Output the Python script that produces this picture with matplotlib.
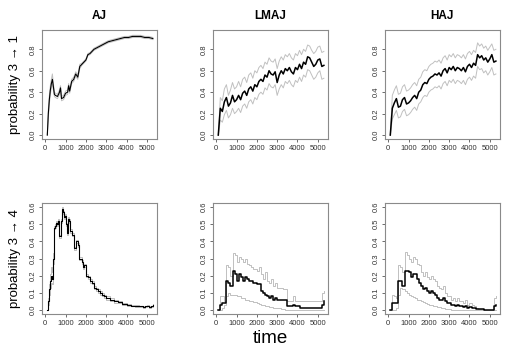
import matplotlib
matplotlib.use("Agg")
from matplotlib import pyplot as plt

plt.rcParams['font.family'] = ['Liberation Sans', 'DejaVu Sans']

# shared time grid for LMAJ / HAJ panels
T = list(range(100, 5400, 100))

# ---- AJ, 3 -> 1
aj1_t = [100, 150, 200, 250, 300, 350, 400, 450, 500, 600, 700, 750, 800, 900, 1000,
         1100, 1150, 1200, 1300, 1400, 1500, 1600, 1700, 1800, 1900, 2000, 2100, 2200,
         2300, 2400, 2500, 2700, 2900, 3100, 3300, 3500, 3700, 3900, 4100, 4300, 4500,
         4700, 4900, 5100, 5300]
aj1 = [0.0, 0.2, 0.33, 0.42, 0.48, 0.52, 0.45, 0.38, 0.37, 0.36, 0.40, 0.44, 0.34, 0.35, 0.39,
       0.40, 0.46, 0.41, 0.50, 0.52, 0.57, 0.54, 0.64, 0.66, 0.68, 0.70, 0.75, 0.76,
       0.78, 0.80, 0.81, 0.83, 0.85, 0.87, 0.88, 0.89, 0.90, 0.91, 0.91, 0.92, 0.92,
       0.92, 0.91, 0.91, 0.90]
aj1_up = [0.0, 0.24, 0.37, 0.46, 0.52, 0.57, 0.48, 0.40, 0.39, 0.38, 0.42, 0.46, 0.36, 0.37, 0.41,
          0.42, 0.48, 0.43, 0.52, 0.54, 0.59, 0.56, 0.66, 0.67, 0.69, 0.71, 0.76, 0.77,
          0.79, 0.81, 0.82, 0.84, 0.86, 0.88, 0.89, 0.90, 0.91, 0.92, 0.92, 0.93, 0.93,
          0.93, 0.92, 0.92, 0.91]
aj1_lo = [0.0, 0.16, 0.29, 0.38, 0.44, 0.48, 0.42, 0.36, 0.35, 0.34, 0.38, 0.42, 0.32, 0.33, 0.37,
          0.38, 0.44, 0.39, 0.48, 0.50, 0.55, 0.52, 0.62, 0.65, 0.67, 0.69, 0.74, 0.75,
          0.77, 0.79, 0.80, 0.82, 0.84, 0.86, 0.87, 0.88, 0.89, 0.90, 0.90, 0.91, 0.91,
          0.91, 0.90, 0.90, 0.89]

# ---- LMAJ, 3 -> 1
lm1 = [0.00, 0.25, 0.22, 0.31, 0.35, 0.27, 0.30, 0.37, 0.31, 0.33, 0.37, 0.33, 0.39, 0.41,
       0.37, 0.43, 0.45, 0.41, 0.47, 0.45, 0.50, 0.52, 0.50, 0.56, 0.54, 0.60, 0.57, 0.56,
       0.59, 0.49, 0.56, 0.60, 0.57, 0.62, 0.60, 0.63, 0.59, 0.57, 0.63, 0.61, 0.66, 0.62,
       0.68, 0.66, 0.73, 0.72, 0.68, 0.64, 0.66, 0.70, 0.71, 0.64, 0.65]
lm1_up = [0.00, 0.35, 0.32, 0.43, 0.47, 0.37, 0.42, 0.49, 0.43, 0.45, 0.50, 0.45, 0.52, 0.54,
          0.49, 0.56, 0.58, 0.53, 0.60, 0.58, 0.63, 0.65, 0.62, 0.68, 0.66, 0.72, 0.69, 0.68,
          0.71, 0.62, 0.69, 0.73, 0.70, 0.75, 0.73, 0.76, 0.72, 0.70, 0.76, 0.74, 0.79, 0.75,
          0.80, 0.78, 0.84, 0.83, 0.79, 0.76, 0.78, 0.82, 0.83, 0.77, 0.78]
lm1_lo = [0.00, 0.14, 0.12, 0.19, 0.23, 0.16, 0.19, 0.25, 0.20, 0.22, 0.25, 0.21, 0.27, 0.29,
          0.25, 0.31, 0.33, 0.29, 0.35, 0.33, 0.38, 0.40, 0.38, 0.44, 0.42, 0.48, 0.45, 0.44,
          0.47, 0.37, 0.43, 0.47, 0.44, 0.50, 0.48, 0.51, 0.47, 0.45, 0.51, 0.49, 0.54, 0.50,
          0.56, 0.54, 0.61, 0.60, 0.56, 0.52, 0.54, 0.58, 0.60, 0.52, 0.53]

# ---- HAJ, 3 -> 1
ha1 = [0.00, 0.25, 0.30, 0.34, 0.26, 0.27, 0.33, 0.35, 0.29, 0.30, 0.32, 0.35, 0.37, 0.34,
       0.40, 0.42, 0.47, 0.49, 0.48, 0.52, 0.54, 0.55, 0.57, 0.56, 0.58, 0.55, 0.60, 0.62,
       0.58, 0.63, 0.61, 0.64, 0.60, 0.63, 0.62, 0.60, 0.63, 0.59, 0.64, 0.66, 0.63, 0.67,
       0.65, 0.75, 0.72, 0.74, 0.70, 0.72, 0.68, 0.71, 0.75, 0.68, 0.69]
ha1_up = [0.00, 0.37, 0.42, 0.46, 0.38, 0.39, 0.45, 0.47, 0.41, 0.42, 0.44, 0.47, 0.49, 0.46,
          0.52, 0.54, 0.59, 0.61, 0.60, 0.64, 0.66, 0.67, 0.69, 0.68, 0.70, 0.67, 0.72, 0.74,
          0.70, 0.75, 0.73, 0.76, 0.72, 0.75, 0.74, 0.72, 0.75, 0.71, 0.76, 0.78, 0.75, 0.79,
          0.77, 0.86, 0.83, 0.85, 0.81, 0.83, 0.79, 0.82, 0.85, 0.79, 0.80]
ha1_lo = [0.00, 0.15, 0.19, 0.23, 0.16, 0.17, 0.22, 0.24, 0.18, 0.19, 0.21, 0.24, 0.26, 0.23,
          0.29, 0.31, 0.35, 0.37, 0.36, 0.40, 0.42, 0.43, 0.45, 0.44, 0.46, 0.43, 0.48, 0.50,
          0.46, 0.51, 0.49, 0.52, 0.48, 0.51, 0.50, 0.48, 0.51, 0.47, 0.52, 0.54, 0.51, 0.55,
          0.53, 0.64, 0.61, 0.62, 0.58, 0.60, 0.56, 0.59, 0.63, 0.56, 0.57]

# ---- AJ, 3 -> 4
aj4_t = [100, 150, 200, 250, 300, 350, 400, 450, 500, 550, 600, 650, 700, 750, 800, 850, 900,
         950, 1000, 1050, 1100, 1150, 1200, 1300, 1400, 1500, 1600, 1650, 1800, 1850, 1900,
         2000, 2100, 2200, 2300, 2400, 2500, 2600, 2700, 2800, 2900, 3000, 3200, 3400, 3600,
         3800, 4000, 4200, 4400, 4600, 4800, 4900, 5000, 5100, 5200, 5300]
aj4 = [0.0, 0.05, 0.12, 0.17, 0.20, 0.18, 0.30, 0.48, 0.49, 0.51, 0.50, 0.52, 0.43, 0.52, 0.59,
       0.57, 0.54, 0.55, 0.50, 0.45, 0.53, 0.52, 0.46, 0.44, 0.36, 0.40, 0.38, 0.30, 0.28,
       0.25, 0.26, 0.20, 0.19, 0.17, 0.16, 0.13, 0.12, 0.11, 0.10, 0.09, 0.08, 0.07, 0.06,
       0.05, 0.045, 0.035, 0.03, 0.025, 0.022, 0.02, 0.015, 0.02, 0.025, 0.015, 0.02, 0.028]
aj4_up = [0.0, 0.07, 0.15, 0.21, 0.25, 0.22, 0.33, 0.49, 0.50, 0.52, 0.51, 0.53, 0.44, 0.53, 0.60,
          0.58, 0.55, 0.56, 0.51, 0.46, 0.54, 0.53, 0.47, 0.45, 0.37, 0.41, 0.39, 0.31, 0.29,
          0.26, 0.27, 0.21, 0.20, 0.18, 0.17, 0.14, 0.13, 0.12, 0.11, 0.10, 0.09, 0.08, 0.07,
          0.06, 0.05, 0.04, 0.035, 0.03, 0.027, 0.025, 0.02, 0.025, 0.03, 0.02, 0.025, 0.033]
aj4_lo = [0.0, 0.03, 0.09, 0.13, 0.16, 0.15, 0.27, 0.47, 0.48, 0.50, 0.49, 0.51, 0.42, 0.51, 0.58,
          0.56, 0.53, 0.54, 0.49, 0.44, 0.52, 0.51, 0.45, 0.43, 0.35, 0.39, 0.37, 0.29, 0.27,
          0.24, 0.25, 0.19, 0.18, 0.16, 0.15, 0.12, 0.11, 0.10, 0.09, 0.08, 0.07, 0.06, 0.05,
          0.04, 0.04, 0.03, 0.025, 0.02, 0.017, 0.015, 0.01, 0.015, 0.02, 0.01, 0.015, 0.023]

# ---- LMAJ, 3 -> 4
lm4 = [0.00, 0.03, 0.04, 0.04, 0.17, 0.16, 0.14, 0.23, 0.21, 0.17, 0.21, 0.19, 0.17, 0.19,
       0.18, 0.17, 0.17, 0.16, 0.16, 0.15, 0.15, 0.11, 0.10, 0.09, 0.08, 0.07, 0.08, 0.06,
       0.07, 0.06, 0.06, 0.06, 0.06, 0.06, 0.02, 0.02, 0.02, 0.03, 0.02, 0.02, 0.01,
       0.01, 0.01, 0.01, 0.01, 0.01, 0.01, 0.01, 0.01, 0.01, 0.01, 0.03, 0.05]
lm4_up = [0.00, 0.08, 0.08, 0.05, 0.26, 0.25, 0.20, 0.33, 0.32, 0.28, 0.31, 0.30, 0.28, 0.30,
          0.27, 0.26, 0.25, 0.24, 0.24, 0.23, 0.25, 0.21, 0.18, 0.22, 0.17, 0.16, 0.18, 0.14,
          0.16, 0.13, 0.13, 0.13, 0.12, 0.12, 0.05, 0.05, 0.05, 0.08, 0.05, 0.05, 0.05,
          0.05, 0.05, 0.05, 0.05, 0.05, 0.05, 0.05, 0.05, 0.05, 0.05, 0.10, 0.11]
lm4_lo = [0.00, 0.00, 0.01, 0.03, 0.08, 0.10, 0.09, 0.09, 0.09, 0.08, 0.08, 0.07, 0.07, 0.06,
          0.06, 0.05, 0.05, 0.045, 0.045, 0.04, 0.035, 0.03, 0.03, 0.02, 0.02, 0.015, 0.015,
          0.01, 0.01, 0.01, 0.01, 0.005, 0.005, 0.0, 0.0, 0.0, 0.0, 0.0, 0.0, 0.0, 0.0, 0.0,
          0.0, 0.0, 0.0, 0.0, 0.0, 0.0, 0.0, 0.0, 0.0, 0.0, 0.0]

# ---- HAJ, 3 -> 4
ha4 = [0.00, 0.04, 0.04, 0.04, 0.17, 0.17, 0.14, 0.23, 0.23, 0.22, 0.19, 0.21, 0.21, 0.18,
       0.16, 0.14, 0.12, 0.13, 0.11, 0.10, 0.11, 0.10, 0.09, 0.07, 0.06, 0.06, 0.07, 0.05,
       0.04, 0.04, 0.03, 0.03, 0.02, 0.03, 0.02, 0.02, 0.015, 0.02, 0.01, 0.015, 0.01, 0.01,
       0.008, 0.005, 0.004, 0.003, 0.002, 0.001, 0.0, 0.0, 0.0, 0.02, 0.03]
ha4_up = [0.00, 0.09, 0.08, 0.07, 0.26, 0.25, 0.22, 0.34, 0.32, 0.30, 0.28, 0.31, 0.30, 0.27,
          0.26, 0.22, 0.20, 0.22, 0.19, 0.18, 0.20, 0.18, 0.17, 0.14, 0.13, 0.12, 0.14, 0.10,
          0.08, 0.08, 0.06, 0.07, 0.05, 0.07, 0.05, 0.05, 0.04, 0.06, 0.03, 0.04, 0.03, 0.02,
          0.01, 0.005, 0.004, 0.003, 0.002, 0.001, 0.0, 0.0, 0.0, 0.07, 0.08]
ha4_lo = [0.00, 0.00, 0.00, 0.01, 0.09, 0.13, 0.12, 0.11, 0.10, 0.09, 0.08, 0.075, 0.07, 0.06,
          0.055, 0.05, 0.045, 0.04, 0.035, 0.03, 0.03, 0.025, 0.02, 0.015, 0.015, 0.01, 0.01,
          0.005, 0.005, 0.003, 0.0, 0.0, 0.0, 0.0, 0.0, 0.0, 0.0, 0.0, 0.0, 0.0, 0.0, 0.0,
          0.0, 0.0, 0.0, 0.0, 0.0, 0.0, 0.0, 0.0, 0.0, 0.0, 0.0]

titles = ['AJ', 'LMAJ', 'HAJ']
ylabels = ['probability 3 \u2192 1', 'probability 3 \u2192 4']
xticks = [0, 1000, 2000, 3000, 4000, 5000]
yticks_top = [0.0, 0.2, 0.4, 0.6, 0.8]
yticks_bot = [0.0, 0.1, 0.2, 0.3, 0.4, 0.5, 0.6]

panels = [
    [(aj1_t, aj1, aj1_up, aj1_lo, 'default'),
     (T, lm1, lm1_up, lm1_lo, 'default'),
     (T, ha1, ha1_up, ha1_lo, 'default')],
    [(aj4_t, aj4, aj4_up, aj4_lo, 'steps-post'),
     (T, lm4, lm4_up, lm4_lo, 'steps-post'),
     (T, ha4, ha4_up, ha4_lo, 'steps-post')],
]

fig = plt.figure(figsize=(5.15, 3.47), dpi=100)
lefts = [0.082, 0.414, 0.748]
rows = [(0.599, 0.314), (0.095, 0.32)]
frame = '#8a8a8a'

for r in range(2):
    for c in range(3):
        ax = fig.add_axes([lefts[c], rows[r][0], 0.222, rows[r][1]])
        t, mid, up, lo, ds = panels[r][c]
        ax.plot(t, up, color='#c0c0c0', lw=0.7, drawstyle=ds)
        ax.plot(t, lo, color='#c0c0c0', lw=0.7, drawstyle=ds)
        ax.plot(t, mid, color='black', lw=1.1 if c else 0.8, drawstyle=ds)
        ax.set_xlim(-150, 5480)
        if r == 0:
            ax.set_ylim(-0.038, 0.978)
            ax.set_yticks(yticks_top)
            ax.set_title(titles[c], fontsize=8.5, fontweight='bold', pad=8)
        else:
            ax.set_ylim(-0.024, 0.624)
            ax.set_yticks(yticks_bot)
        ax.set_yticklabels(['%.1f' % v for v in ax.get_yticks()], rotation=90, va='center')
        ax.set_xticks(xticks)
        ax.tick_params(labelsize=5.5, length=2.5, width=0.6, color='#555555',
                       labelcolor='#333333', pad=1.5)
        for s in ax.spines.values():
            s.set_color(frame)
            s.set_linewidth(0.8)
        if c == 0:
            ax.set_ylabel(ylabels[r], fontsize=9.5, labelpad=6)

fig.text(0.525, 0.025, 'time', fontsize=13.5, ha='center', va='center')
fig.savefig('out.png', dpi=100)
